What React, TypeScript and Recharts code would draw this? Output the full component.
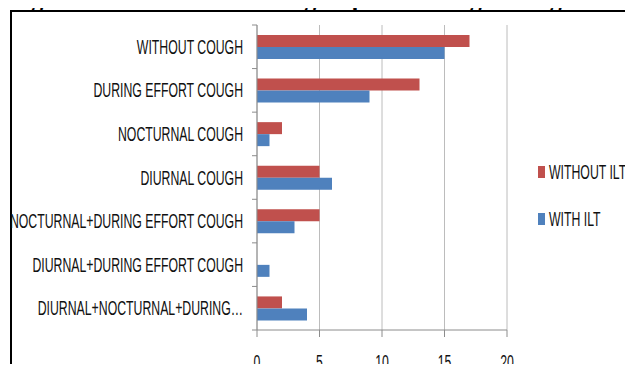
import React from 'react';
import { BarChart, Bar, XAxis, YAxis, CartesianGrid, Legend } from 'recharts';

// categories top to bottom, as in the figure
const categories = [
  'WITHOUT COUGH',
  'DURING EFFORT COUGH',
  'NOCTURNAL COUGH',
  'DIURNAL COUGH',
  'NOCTURNAL+DURING EFFORT COUGH',
  'DIURNAL+DURING EFFORT COUGH',
  'DIURNAL+NOCTURNAL+DURING…',
];
const withoutIlt = [17, 13, 2, 5, 5, 0, 2];
const withIlt = [15, 9, 1, 6, 3, 1, 4];
const xTicks = [0, 5, 10, 15, 20];

const series = [
  { key: 'withoutIlt', name: 'WITHOUT ILT', color: '#C0504D' },
  { key: 'withIlt', name: 'WITH ILT', color: '#4F81BD' },
];

const data = categories.map((name, i) => ({
  name,
  withoutIlt: withoutIlt[i],
  withIlt: withIlt[i],
}));

const W = 633;
const H = 372;
const MARGIN = { top: 25, right: 126, bottom: 12, left: 0 };
const X_AXIS_H = 30;
const PLOT_H = H - MARGIN.top - MARGIN.bottom - X_AXIS_H;

const FONT = '"Liberation Sans", Arial, sans-serif';
const FONT_SIZE = 19.5;
const SQUEEZE = 0.63; // narrow, tall lettering of the original
const AXIS = '#8c8c8c';
const GRID = '#bcbcbc';

const YTick = (props: any) => {
  const { x, y, payload, index } = props;
  const band = PLOT_H / categories.length;
  return (
    <g>
      <line x1={x - 5} x2={x} y1={y - band / 2} y2={y - band / 2} stroke={AXIS} />
      {index === categories.length - 1 && (
        <line x1={x - 5} x2={x} y1={y + band / 2} y2={y + band / 2} stroke={AXIS} />
      )}
      <text
        transform={`translate(${x - 14},${y + 7}) scale(${SQUEEZE},1)`}
        textAnchor="end"
        fontFamily={FONT}
        fontSize={FONT_SIZE}
        fill="#111"
      >
        {payload.value}
      </text>
    </g>
  );
};

const XTick = (props: any) => {
  const { x, y, payload } = props;
  return (
    <text
      transform={`translate(${x},${y + 32}) scale(${SQUEEZE},1)`}
      textAnchor="middle"
      fontFamily={FONT}
      fontSize={FONT_SIZE}
      fill="#111"
    >
      {payload.value}
    </text>
  );
};

// legend drawn in the series order (WITHOUT ILT on top)
const LegendContent = () => (
  <svg
    width={W}
    height={H}
    style={{ position: 'absolute', left: 0, top: 0, overflow: 'visible', pointerEvents: 'none' }}
  >
    {series.map((s, i) => {
      const base = 179 + i * 47;
      return (
        <g key={s.key}>
          <rect x={538} y={base - 13} width={7} height={12} fill={s.color} />
          <text
            transform={`translate(549,${base}) scale(${SQUEEZE},1)`}
            fontFamily={FONT}
            fontSize={FONT_SIZE}
            fill="#111"
          >
            {s.name}
          </text>
        </g>
      );
    })}
  </svg>
);

export default function App() {
  return (
    <div style={{ position: 'relative', width: W, height: H, overflow: 'hidden', margin: -8, background: '#fff' }}>
      <svg width={W} height={20} style={{ position: 'absolute', left: 0, top: 0 }}>
        <text x={10} y={7} fontFamily='"Liberation Serif", "Times New Roman", serif' fontWeight="bold" fontSize={24} fill="#000">
          Figure no. 2: Distribution of groups according to cough
        </text>
      </svg>
      <div
        style={{
          position: 'absolute',
          left: 10,
          top: 10,
          width: 700,
          height: 420,
          border: '2px solid #000',
          boxSizing: 'border-box',
        }}
      />
      <div style={{ position: 'absolute', left: 0, top: 0 }}>
        <BarChart
          width={W}
          height={H}
          data={data}
          layout="vertical"
          margin={MARGIN}
          barGap={0}
          barSize={12}
        >
          <CartesianGrid horizontal={false} stroke={GRID} />
          <XAxis
            type="number"
            domain={[0, 20]}
            ticks={xTicks}
            height={X_AXIS_H}
            tickSize={7}
            tickMargin={0}
            axisLine={{ stroke: AXIS }}
            tickLine={{ stroke: AXIS }}
            tick={<XTick />}
          />
          <YAxis
            type="category"
            dataKey="name"
            width={257}
            interval={0}
            tickSize={0}
            tickMargin={0}
            tickLine={false}
            axisLine={{ stroke: AXIS }}
            tick={<YTick />}
          />
          <Legend
            content={<LegendContent />}
            wrapperStyle={{ position: 'absolute', left: 0, top: 0, width: 0, height: 0 }}
          />
          {series.map((s) => (
            <Bar key={s.key} dataKey={s.key} name={s.name} fill={s.color} isAnimationActive={false} />
          ))}
        </BarChart>
      </div>
    </div>
  );
}
